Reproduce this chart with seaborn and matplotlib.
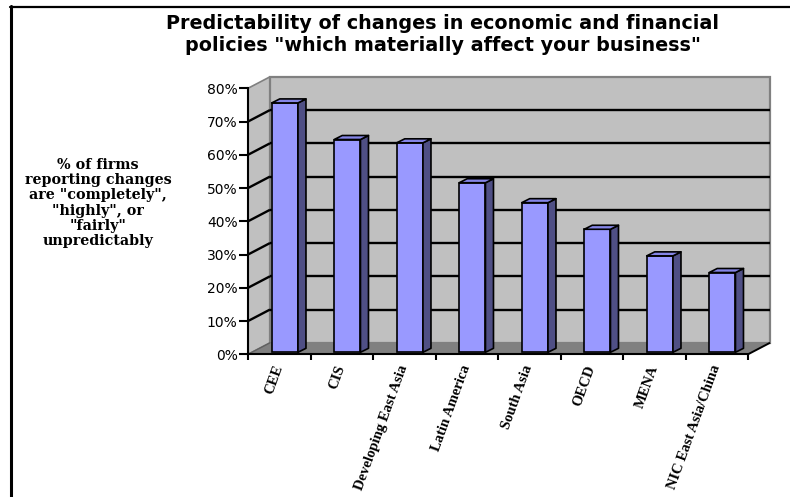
import numpy as np
import pandas as pd
import matplotlib
matplotlib.use("Agg")
import matplotlib.pyplot as plt
from matplotlib.patches import Polygon, Rectangle
from matplotlib.lines import Line2D
import seaborn as sns

# Survey results by region
regions = ["CEE", "CIS", "Developing East Asia", "Latin America", "South Asia",
           "OECD", "MENA", "NIC East Asia/China"]
unpredictable_pct = [75, 64, 63, 51, 45, 37, 29, 24]
ytick_values = [0, 10, 20, 30, 40, 50, 60, 70, 80]
ytick_labels = [f"{v}%" for v in ytick_values]

title = ("Predictability of changes in economic and financial\n"
         "policies \"which materially affect your business\"")
ylabel = ("% of firms\nreporting changes\nare \"completely\",\n"
          "\"highly\", or\n\"fairly\"\nunpredictably")

df = pd.DataFrame({"region": regions, "pct": unpredictable_pct})

sns.set_theme(style="white")
W, H = 790, 497
fig = plt.figure(figsize=(W / 100, H / 100), dpi=100)

# front plane of the pseudo-3D box, in pixels
x_left, x_right = 248, 748
y_zero, y_top = 354.3, 88.3
ax = fig.add_axes([x_left / W, 1 - y_zero / H, (x_right - x_left) / W, (y_zero - y_top) / H])
ax.set_facecolor("none")

n = len(regions)
px_per_cat = (x_right - x_left) / n
px_per_pct = (y_zero - y_top) / 80.0

# depth of the box and of the bars (pixels -> data units)
DX, DY = 22 / px_per_cat, 11.5 / px_per_pct
FX, FY = 5.6 / px_per_cat, 2.0 / px_per_pct
BX, BY = 8 / px_per_cat, 4.0 / px_per_pct

wall = "#c0c0c0"
wall_edge = "#808080"
floor = "#808080"
x0, x1 = -0.5, n - 0.5

# side wall, back wall and floor
ax.add_patch(Polygon([(x0, 0), (x0 + DX, DY), (x0 + DX, 80 + DY), (x0, 80)],
                     closed=True, fc=wall, ec=wall_edge, lw=1.2, zorder=0, clip_on=False))
ax.add_patch(Rectangle((x0 + DX, DY), n, 80, fc=wall, ec=wall_edge, lw=1.6,
                       zorder=0, clip_on=False))
ax.add_patch(Polygon([(x0, 0), (x1, 0), (x1 + DX, DY), (x0 + DX, DY)],
                     closed=True, fc=floor, ec="none", zorder=0.6, clip_on=False))
ax.plot([x1, x1 + DX], [0, DY], color="black", lw=1.4, zorder=0.7, clip_on=False,
        solid_capstyle="butt")
ax.plot([x0, x0 + DX], [0, DY], color="#606060", lw=1.0, zorder=0.7, clip_on=False)

# gridlines across side wall and back wall
for v in ytick_values[1:-1]:
    ax.plot([x0, x0 + DX], [v, v + DY], color="black", lw=1.7, zorder=0.5,
            clip_on=False, solid_capstyle="butt")
    ax.plot([x0 + DX, x1 + DX], [v + DY, v + DY], color="black", lw=1.7, zorder=0.5,
            clip_on=False, solid_capstyle="butt")

# bar fronts
sns.barplot(data=df, x="region", y="pct", color="#9999ff", saturation=1,
            width=0.42, edgecolor="black", linewidth=1.2, ax=ax, zorder=2)

for p in list(ax.patches):
    if p.get_zorder() != 2:
        continue
    p.set_x(p.get_x() + FX)
    p.set_y(FY)
    bx0 = p.get_x()
    bx1 = bx0 + p.get_width()
    by0 = p.get_y()
    by1 = by0 + p.get_height()
    ax.add_patch(Polygon([(bx1, by0), (bx1 + BX, by0 + BY), (bx1 + BX, by1 + BY), (bx1, by1)],
                         closed=True, fc="#4f4f85", ec="black", lw=1.2, zorder=2,
                         clip_on=False, joinstyle="round"))
    ax.add_patch(Polygon([(bx0, by1), (bx1, by1), (bx1 + BX, by1 + BY), (bx0 + BX, by1 + BY)],
                         closed=True, fc="#8585e6", ec="black", lw=1.2, zorder=2,
                         clip_on=False, joinstyle="round"))

ax.set_xlim(x0, x1)
ax.set_ylim(0, 80)
ax.set_xlabel("")
ax.set_ylabel("")

for s in ["top", "right"]:
    ax.spines[s].set_visible(False)
for s in ["left", "bottom"]:
    ax.spines[s].set_color("black")
    ax.spines[s].set_linewidth(1.5)
    ax.spines[s].set_zorder(3)

ax.set_yticks(ytick_values)
ax.set_yticklabels(ytick_labels, fontsize=10, family="DejaVu Sans", color="black")
ax.tick_params(axis="y", which="major", length=6.5, width=1.5, color="black",
               direction="out", left=True, pad=1)

ax.set_xticks(np.arange(x0, x1 + 0.01, 1.0))
ax.set_xticklabels([])
ax.tick_params(axis="x", which="major", length=4, width=1.5, color="black",
               direction="out", bottom=True)
ax.set_xticks(np.arange(n), minor=True)
ax.set_xticklabels(regions, minor=True, rotation=70, ha="right", va="center",
                   rotation_mode="anchor", fontsize=10.5, family="Liberation Serif",
                   fontweight="bold", color="black")
ax.tick_params(axis="x", which="minor", length=0, pad=8)
ax.grid(False)

fig.text(443 / W, 1 - 34.5 / H, title, ha="center", va="center", fontsize=13.8,
         fontweight="bold", family="DejaVu Sans", linespacing=1.18, color="black")
fig.text(98 / W, 1 - 203 / H, ylabel, ha="center", va="center", fontsize=10.3,
         fontweight="bold", family="DejaVu Serif", linespacing=1.1, color="black")

# chart frame
fig.add_artist(Line2D([10.5 / W, 10.5 / W], [0, 1 - 6 / H], color="black", lw=2.2,
                      transform=fig.transFigure))
fig.add_artist(Line2D([9.5 / W, 1], [1 - 6.5 / H, 1 - 6.5 / H], color="black", lw=1.6,
                      transform=fig.transFigure))

fig.savefig("out.png", dpi=100, facecolor="white")
